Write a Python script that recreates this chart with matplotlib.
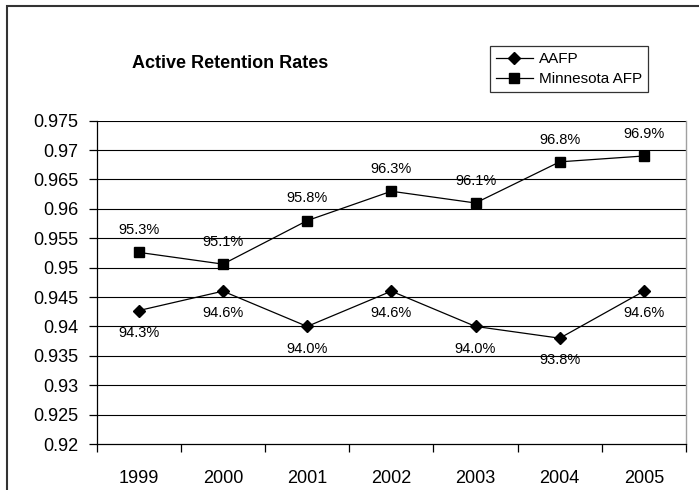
import matplotlib.pyplot as plt
from matplotlib.patches import Rectangle

plt.rcParams['font.family'] = ['Liberation Sans', 'DejaVu Sans']

# data
years = ['1999', '2000', '2001', '2002', '2003', '2004', '2005']
aafp = [0.9427, 0.946, 0.940, 0.946, 0.940, 0.938, 0.946]
minnesota = [0.9526, 0.9506, 0.958, 0.963, 0.961, 0.968, 0.969]
y_ticks = [0.92, 0.925, 0.93, 0.935, 0.94, 0.945, 0.95, 0.955, 0.96, 0.965, 0.97, 0.975]
y_labels = ['0.92', '0.925', '0.93', '0.935', '0.94', '0.945', '0.95', '0.955', '0.96', '0.965', '0.97', '0.975']

fig = plt.figure(figsize=(6.99, 4.90), dpi=100)
ax = fig.add_axes([96.7 / 699, 1 - 444 / 490, (686 - 96.7) / 699, (444 - 120.7) / 490])

x = list(range(len(years)))
ax.plot(x, aafp, color='black', lw=0.9, marker='D', ms=6, label='AAFP', zorder=3)
ax.plot(x, minnesota, color='black', lw=0.9, marker='s', ms=7, label='Minnesota AFP', zorder=3)

for xi, v in zip(x, minnesota):
    ax.annotate(f'{v:.1%}', (xi, v), xytext=(0, 16), textcoords='offset points',
                ha='center', va='center', fontsize=10.5)
for xi, v in zip(x, aafp):
    ax.annotate(f'{v:.1%}', (xi, v), xytext=(0, -16), textcoords='offset points',
                ha='center', va='center', fontsize=10.5)

ax.set_xlim(-0.5, len(years) - 0.5)
ax.set_ylim(0.92, 0.975)
ax.set_yticks(y_ticks)
ax.set_yticklabels(y_labels, fontsize=13)
ax.set_xticks(x)
ax.set_xticklabels(years, fontsize=13)
ax.set_xticks([i - 0.5 for i in range(len(years) + 1)], minor=True)
ax.tick_params(axis='x', which='major', length=0, pad=19)
ax.tick_params(axis='x', which='minor', length=6, width=0.9, direction='out')
ax.tick_params(axis='y', length=6, width=0.9, direction='out', pad=7)

for yv in y_ticks[1:]:
    ax.axhline(yv, color='black', lw=0.8, zorder=1)
for s in ['left', 'bottom']:
    ax.spines[s].set_color('black')
    ax.spines[s].set_linewidth(0.9)
ax.spines['top'].set_visible(False)
ax.spines['right'].set_color('#a0a0a0')
ax.spines['right'].set_linewidth(1.0)

fig.text(132 / 699, 1 - 63 / 490, 'Active Retention Rates', fontsize=13,
         fontweight='bold', ha='left', va='center')

leg = ax.legend(loc='upper left', bbox_to_anchor=(490 / 699, 1 - 46 / 490),
                bbox_transform=fig.transFigure, fontsize=11, frameon=True,
                fancybox=False, edgecolor='black', borderaxespad=0,
                handlelength=2.4, handletextpad=0.4, labelspacing=0.4,
                borderpad=0.4)
leg.get_frame().set_linewidth(0.9)

fig.patches.append(Rectangle((7 / 699, -0.1), 1.2, 1.1 - 6 / 490, fill=False,
                             edgecolor='#333333', lw=1.5, transform=fig.transFigure))

fig.savefig('out.png', dpi=100)
